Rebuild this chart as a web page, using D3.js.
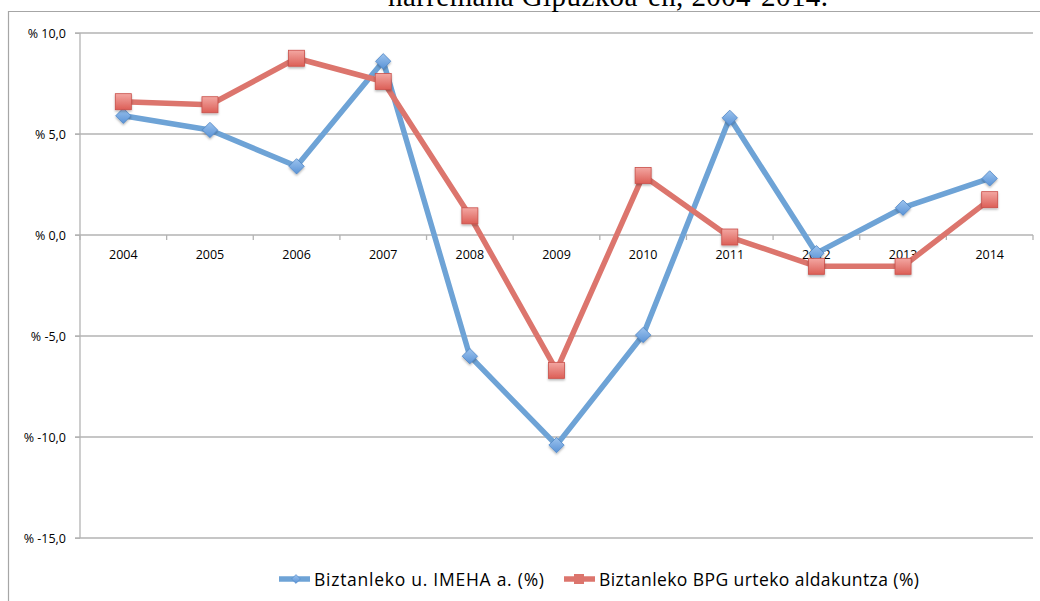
<!DOCTYPE html>
<html>
<head>
<meta charset="utf-8">
<script src="https://cdn.jsdelivr.net/npm/d3@7"></script>
<style>
  body { margin: 0; background: #fff; }
  svg { display: block; }
  .axis text { font-family: "Open Sans", "Liberation Sans", sans-serif; font-size: 12.5px; fill: #000; }
</style>
</head>
<body>
<div id="chart"></div>
<script>
// data
var years = ["2004", "2005", "2006", "2007", "2008", "2009", "2010", "2011", "2012", "2013", "2014"];
var imeha = [5.9, 5.2, 3.4, 8.6, -6.0, -10.4, -4.95, 5.8, -0.9, 1.35, 2.8];
var bpg = [6.6, 6.45, 8.75, 7.6, 0.95, -6.7, 2.95, -0.1, -1.55, -1.55, 1.75];
var yTicks = [10, 5, 0, -5, -10, -15];
var seriesNames = ["Biztanleko u. IMEHA a. (%)", "Biztanleko BPG urteko aldakuntza (%)"];

var W = 1040, H = 601;
var margin = {top: 33, left: 80, right: 7, bottom: 63};
var width = W - margin.left - margin.right;
var height = H - margin.top - margin.bottom;

var svg = d3.select("#chart").append("svg")
    .attr("width", W)
    .attr("height", H);

var defs = svg.append("defs");
var sg = defs.append("linearGradient").attr("id", "sq").attr("x1", 0).attr("y1", 0).attr("x2", 0).attr("y2", 1);
sg.append("stop").attr("offset", "0%").attr("stop-color", "#f3a7a2");
sg.append("stop").attr("offset", "100%").attr("stop-color", "#dc5f57");
var dg = defs.append("linearGradient").attr("id", "dm").attr("x1", 0).attr("y1", 0).attr("x2", 0).attr("y2", 1);
dg.append("stop").attr("offset", "0%").attr("stop-color", "#9cc3ee");
dg.append("stop").attr("offset", "100%").attr("stop-color", "#5a93d6");
var sh = defs.append("filter").attr("id", "shadow").attr("x", "-50%").attr("y", "-50%").attr("width", "200%").attr("height", "200%");
sh.append("feDropShadow").attr("dx", 0).attr("dy", 1.5).attr("stdDeviation", 1.2).attr("flood-color", "#000").attr("flood-opacity", 0.3);

// outer frame (only top and left visible)
svg.append("line").attr("x1", 8).attr("x2", W).attr("y1", 11.5).attr("y2", 11.5)
    .attr("stroke", "#a6a6a6").attr("stroke-width", 1.2);
svg.append("line").attr("x1", 8.5).attr("x2", 8.5).attr("y1", 11).attr("y2", H)
    .attr("stroke", "#a6a6a6").attr("stroke-width", 1.2);

// title, cut by the top edge as in the source picture
svg.append("text")
    .attr("x", 608).attr("y", 6)
    .attr("text-anchor", "middle")
    .attr("textLength", 440)
    .style("font-family", "'Liberation Serif', 'DejaVu Serif', serif")
    .style("font-size", "29px")
    .text("harremana Gipuzkoa·en, 2004-2014.");

var g = svg.append("g").attr("transform", "translate(" + margin.left + "," + margin.top + ")");

var x = d3.scaleBand().domain(years).range([0, width]);
var y = d3.scaleLinear().domain([-15, 10]).range([height, 0]);

// gridlines
g.selectAll(".grid").data(yTicks).enter().append("line")
    .attr("class", "grid")
    .attr("x1", -5).attr("x2", width)
    .attr("y1", function(d){ return y(d); })
    .attr("y2", function(d){ return y(d); })
    .attr("stroke", "#b3b3b3").attr("stroke-width", 1.3);

// y axis
var yAxis = g.append("g").attr("class", "axis")
    .call(d3.axisLeft(y).tickValues(yTicks).tickSize(5).tickPadding(9)
        .tickFormat(function(d){ return "% " + d.toFixed(1).replace(".", ","); }));
yAxis.select(".domain").attr("stroke", "#b3b3b3").attr("stroke-width", 1.3).attr("d", "M0," + y(10) + "V" + y(-15));
yAxis.selectAll(".tick line").attr("stroke", "#b3b3b3");

// x axis at zero
var xAxis = g.append("g").attr("class", "axis")
    .attr("transform", "translate(0," + y(0) + ")")
    .call(d3.axisBottom(x).tickSize(0).tickPadding(15));
xAxis.select(".domain").remove();
var bounds = years.map(function(d){ return x(d); }).concat([width]);
xAxis.selectAll(".bt").data(bounds).enter().append("line")
    .attr("class", "bt")
    .attr("x1", function(d){ return d; }).attr("x2", function(d){ return d; })
    .attr("y1", 0).attr("y2", 5)
    .attr("stroke", "#b3b3b3").attr("stroke-width", 1.3);

var cx = function(d, i){ return x(years[i]) + x.bandwidth() / 2; };

var line = d3.line()
    .x(function(d, i){ return cx(d, i); })
    .y(function(d){ return y(d); });

var blue = "#6ea3d6", red = "#dc756d";

g.append("path").datum(imeha).attr("d", line)
    .attr("fill", "none").attr("stroke", blue).attr("stroke-width", 5.5).attr("stroke-linejoin", "round");
g.append("path").datum(bpg).attr("d", line)
    .attr("fill", "none").attr("stroke", red).attr("stroke-width", 5.5).attr("stroke-linejoin", "round");

var diamond = d3.symbol().type(d3.symbolDiamond2).size(150);

g.selectAll(".dm").data(imeha).enter().append("path")
    .attr("class", "dm")
    .attr("transform", function(d, i){ return "translate(" + cx(d, i) + "," + y(d) + ")"; })
    .attr("d", diamond)
    .attr("fill", "url(#dm)").attr("stroke", "#4f86c6").attr("stroke-width", 0.8)
    .attr("filter", "url(#shadow)");

g.selectAll(".sq").data(bpg).enter().append("rect")
    .attr("class", "sq")
    .attr("x", function(d, i){ return cx(d, i) - 8; })
    .attr("y", function(d){ return y(d) - 8; })
    .attr("width", 16).attr("height", 16)
    .attr("fill", "url(#sq)").attr("stroke", "#c9504a").attr("stroke-width", 0.8)
    .attr("filter", "url(#shadow)");

// legend
var legend = svg.append("g").attr("transform", "translate(0,579)");
var items = [
  {name: seriesNames[0], color: blue, x0: 279, w: 230, kind: "d"},
  {name: seriesNames[1], color: red, x0: 564, w: 320, kind: "s"}
];
items.forEach(function(it){
  legend.append("line").attr("x1", it.x0).attr("x2", it.x0 + 31).attr("y1", 0).attr("y2", 0)
      .attr("stroke", it.color).attr("stroke-width", 5.5);
  if (it.kind == "d") {
    legend.append("path").attr("transform", "translate(" + (it.x0 + 17) + ",0)")
        .attr("d", d3.symbol().type(d3.symbolDiamond2).size(50))
        .attr("fill", "url(#dm)").attr("stroke", "#4f86c6").attr("stroke-width", 0.6);
  } else {
    legend.append("rect").attr("x", it.x0 + 10).attr("y", -5).attr("width", 10).attr("height", 10)
        .attr("fill", red).attr("stroke", "none");
  }
  legend.append("text").attr("x", it.x0 + 35).attr("y", 7)
      .attr("textLength", it.w)
      .style("font-family", "'Open Sans', 'Liberation Sans', sans-serif")
      .style("font-size", "17.5px")
      .text(it.name);
});
</script>
</body>
</html>
